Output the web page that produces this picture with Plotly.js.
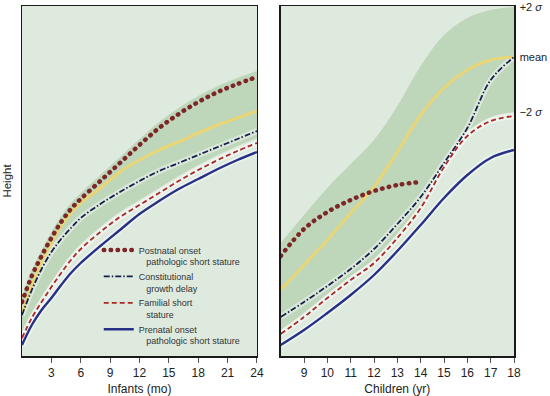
<!DOCTYPE html>
<html>
<head>
<meta charset="utf-8">
<script src="https://cdn.plot.ly/plotly-3.0.1.min.js"></script>
<style>html,body{margin:0;padding:0;background:#fff;}#chart{width:550px;height:396px;}</style>
</head>
<body>
<div id="chart"></div>
<script>
// ---- Infants panel (months) ----
const infantMonths = [0,1,2,3,4,5,6,8,10,12,14,16,18,20,22,24];
const infantUpper2sd = [60,86,106,124,140,153,163,181,199,217,234,248,260,270,278,285];
const infantLower2sd = [23,43,59,74,88,101,112,129,144,156,168,180,191,201,210,218];
const infantMean = [43,71,94,113,130,143,153,168,184,196,206,214,223,231,238,245];
const infantPostnatal = [54,80,100,118,134,147,157,175,193,211,228,242,254,264,272,279];
const infantConstitutional = [41,66,87,104,117,128,138,152,164,175,185,193,201,209,217,225];
const infantFamilial = [18,38,54,69,83,96,107,124,139,151,163,175,186,196,205,213];
const infantPrenatal = [11,31,46,58,71,83,93,110,126,142,155,167,177,187,196,204];
const infantTicks = [3,6,9,12,15,18,21,24];

// ---- Children panel (years) ----
const childYears = [8,9,10,11,12,13,14,15,16,17,18];
const childUpper2sd = [113,141,168,192,216,250,290,321,338,346,349];
const childLower2sd = [26,43,62,80,97,122,152,193,224,239,244];
const childMean = [66,91,116,143,169,204,241,268,286,296,299];
const childConstitutional = [39,54,70,87,107,132,159,193,228,276,299];
const childFamilial = [22,39,58,76,93,118,148,189,220,235,240];
const childPrenatal = [11,26,43,61,81,105,131,158,181,198,206];
const childPostnatalYears = [8,9,10,11,12,13,14];
const childPostnatal = [100,127,144,156,165,171,174];
const childTicks = [9,10,11,12,13,14,15,16,17,18];

const sdLabels = ['+2 <i>σ</i>','mean','\u22122 <i>σ</i>'];

const names = {
  post: 'Postnatal onset<br>\u00a0\u00a0\u00a0pathologic short stature',
  cons: 'Constitutional<br>\u00a0\u00a0\u00a0growth delay',
  fam: 'Familial short<br>\u00a0\u00a0\u00a0stature',
  pre: 'Prenatal onset<br>\u00a0\u00a0\u00a0pathologic short stature'
};

const C = {
  band: 'rgb(190,214,186)',
  mean: 'rgb(232,214,118)',
  post: 'rgb(125,38,40)',
  cons: 'rgb(22,32,78)',
  fam: 'rgb(170,40,40)',
  pre: 'rgb(38,48,135)',
  halo: 'rgba(255,255,255,0.45)'
};

function band(x, lo, hi, xa, ya) {
  return [
    {x:x, y:lo, xaxis:xa, yaxis:ya, mode:'lines', line:{width:0, shape:'spline'}, showlegend:false, hoverinfo:'skip'},
    {x:x, y:hi, xaxis:xa, yaxis:ya, mode:'lines', line:{width:0, shape:'spline'}, fill:'tonexty', fillcolor:C.band, showlegend:false, hoverinfo:'skip'}
  ];
}
function halo(x, y, xa, ya) {
  return {x:x, y:y, xaxis:xa, yaxis:ya, mode:'lines', line:{color:C.halo, width:6, shape:'spline'}, showlegend:false, hoverinfo:'skip'};
}
function ln(x, y, xa, ya, color, width, dash, name, show) {
  return {x:x, y:y, xaxis:xa, yaxis:ya, mode:'lines', name:name, showlegend:show, legendgroup:name,
    line:{color:color, width:width, dash:dash, shape:'spline'}, hoverinfo:'skip'};
}
const DOT = '0.5px,6.4px';
const DASHDOT = '6px,2px,1.5px,2px';
const DASH = '5px,3px';

const data = [
  ...band(infantMonths, infantLower2sd, infantUpper2sd, 'x', 'y'),
  halo(infantMonths, infantPrenatal, 'x', 'y'),
  halo(infantMonths, infantFamilial, 'x', 'y'),
  halo(infantMonths, infantConstitutional, 'x', 'y'),
  ln(infantMonths, infantMean, 'x', 'y', C.mean, 3, 'solid', 'mean', false),
  ln(infantMonths, infantPostnatal, 'x', 'y', C.post, 4.5, DOT, names.post, true),
  ln(infantMonths, infantConstitutional, 'x', 'y', C.cons, 1.8, DASHDOT, names.cons, true),
  ln(infantMonths, infantFamilial, 'x', 'y', C.fam, 1.8, DASH, names.fam, true),
  ln(infantMonths, infantPrenatal, 'x', 'y', C.pre, 2.4, 'solid', names.pre, true),

  ...band(childYears, childLower2sd, childUpper2sd, 'x2', 'y2'),
  halo(childYears, childPrenatal, 'x2', 'y2'),
  halo(childYears, childFamilial, 'x2', 'y2'),
  halo(childYears, childConstitutional, 'x2', 'y2'),
  ln(childYears, childMean, 'x2', 'y2', C.mean, 3, 'solid', 'mean2', false),
  ln(childPostnatalYears, childPostnatal, 'x2', 'y2', C.post, 4.5, DOT, 'p2', false),
  ln(childYears, childConstitutional, 'x2', 'y2', C.cons, 1.8, DASHDOT, 'c2', false),
  ln(childYears, childFamilial, 'x2', 'y2', C.fam, 1.8, DASH, 'f2', false),
  ln(childYears, childPrenatal, 'x2', 'y2', C.pre, 2.4, 'solid', 'pr2', false)
];

const font = {family:'"Liberation Sans", Arial, sans-serif', color:'#222'};
const axCommon = {showline:true, mirror:true, linecolor:'#1a1a1a', linewidth:1.5, showgrid:false, zeroline:false, fixedrange:true};

const layout = {
  width:550, height:396,
  margin:{l:22, r:36, t:6, b:40},
  paper_bgcolor:'#ffffff',
  plot_bgcolor:'rgb(223,234,222)',
  font:font,
  showlegend:true,
  legend:{x:0.156, y:0.338, xanchor:'left', yanchor:'top', bgcolor:'rgba(0,0,0,0)',
    font:{family:font.family, size:9, color:'#333'}, valign:'top', itemwidth:30, tracegroupgap:0},
  xaxis:Object.assign({}, axCommon, {domain:[0,0.4776], range:[0,24], tickvals:infantTicks,
    ticks:'outside', ticklen:5, tickcolor:'#555', tickfont:{size:12, color:'#222'},
    title:{text:'Infants (mo)', font:{size:12, color:'#222'}, standoff:6}}),
  yaxis:Object.assign({}, axCommon, {domain:[0,1], range:[0,350], showticklabels:false, ticks:'',
    title:{text:'Height', font:{size:11.5, color:'#222'}, standoff:6}}),
  xaxis2:Object.assign({}, axCommon, {anchor:'y2', domain:[0.5258,1], range:[8,18], tickvals:childTicks,
    ticks:'outside', ticklen:5, tickcolor:'#555', tickfont:{size:12, color:'#222'},
    title:{text:'Children (yr)', font:{size:12, color:'#222'}, standoff:6}}),
  yaxis2:Object.assign({}, axCommon, {anchor:'x2', domain:[0,1], range:[0,350], side:'right',
    tickvals:[childUpper2sd[childUpper2sd.length-1], childMean[childMean.length-1], childLower2sd[childLower2sd.length-1]],
    ticktext:sdLabels, ticks:'', ticklabelstandoff:2, tickfont:{size:11, color:'#222'}})
};

Plotly.newPlot('chart', data, layout, {staticPlot:true, displayModeBar:false}).then(() => {
  document.querySelectorAll('path.js-line').forEach(p => {
    const d = p.style.strokeDasharray || '';
    if (d.indexOf('0.5px') === 0) p.style.strokeLinecap = 'round';
  });
});
</script>
</body>
</html>
